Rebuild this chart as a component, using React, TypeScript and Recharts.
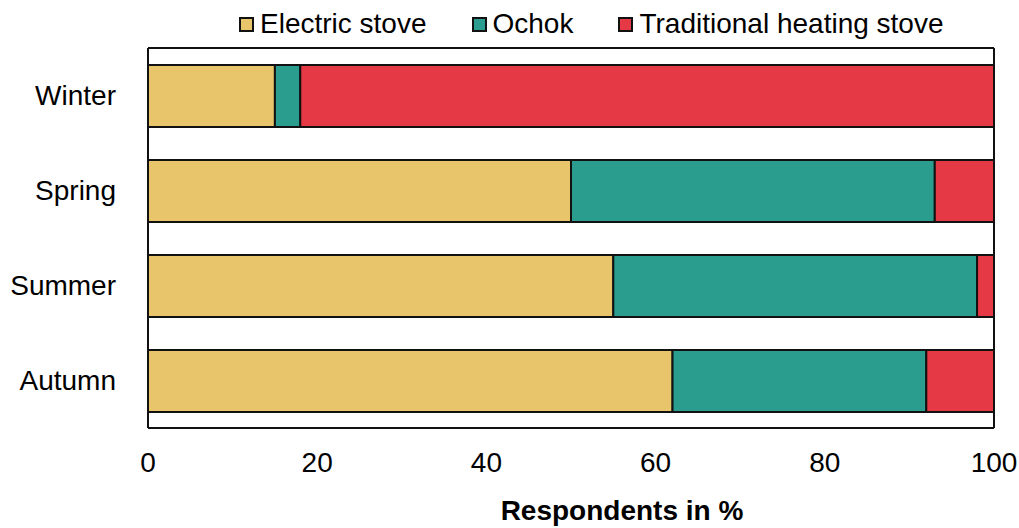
import React from 'react';
import { BarChart, Bar, XAxis, YAxis, Label } from 'recharts';

const seasons = ['Winter', 'Spring', 'Summer', 'Autumn'];
const electricStove = [15, 50, 55, 62];
const ochok = [3, 43, 43, 30];
const traditionalStove = [82, 7, 2, 8];
const seriesNames = ['Electric stove', 'Ochok', 'Traditional heating stove'];
const seriesColors = ['#E8C46B', '#2A9D8F', '#E63946'];
const xTicks = [0, 20, 40, 60, 80, 100];

const data = seasons.map((s, i) => ({
  season: s,
  electric: electricStove[i],
  ochok: ochok[i],
  traditional: traditionalStove[i],
}));
const keys = ['electric', 'ochok', 'traditional'];

const FONT = '"Liberation Sans", Arial, sans-serif';
const FS = 28;

export default function App() {
  return (
    <div style={{ position: 'absolute', left: 0, top: 0, width: 1019, height: 528, background: '#fff', fontFamily: FONT }}>
      <div style={{ position: 'absolute', top: 6, left: 239, display: 'flex', alignItems: 'center', height: 36, whiteSpace: 'nowrap', width: 770 }}>
        {seriesNames.map((n, i) => (
          <div key={n} style={{ display: 'flex', alignItems: 'center', marginRight: i < 2 ? 45 : 0 }}>
            <div style={{ width: 11, height: 11, background: seriesColors[i], border: '2px solid #111', marginRight: 6 }} />
            <span style={{ fontSize: FS, color: '#000', lineHeight: '36px' }}>{n}</span>
          </div>
        ))}
      </div>
      <BarChart
        width={1019}
        height={528}
        data={data}
        layout="vertical"
        margin={{ top: 47, right: 24, bottom: 0, left: 0 }}
        style={{ position: 'absolute', left: 0, top: 0 }}
      >
        <XAxis
          type="number"
          domain={[0, 100]}
          ticks={xTicks}
          tickLine={false}
          tickSize={0}
          tickMargin={24}
          height={100}
          axisLine={{ stroke: '#111', strokeWidth: 2 }}
          tick={{ fill: '#000', fontSize: FS, fontFamily: FONT }}
          interval={0}
        >
          <Label
            value="Respondents in %"
            position="insideBottom"
            offset={8}
            dx={51}
            style={{ fill: '#000', fontSize: FS, fontWeight: 'bold', fontFamily: FONT }}
          />
        </XAxis>
        <XAxis xAxisId="top" type="number" orientation="top" domain={[0, 100]} ticks={[0, 100]} tick={false} tickLine={false} height={1} axisLine={{ stroke: '#111', strokeWidth: 2 }} />
        <YAxis
          type="category"
          dataKey="season"
          width={148}
          tickLine={false}
          tickSize={0}
          tickMargin={32}
          axisLine={{ stroke: '#111', strokeWidth: 2 }}
          tick={{ fill: '#000', fontSize: FS, fontFamily: FONT }}
        />
        <YAxis yAxisId="right" type="category" dataKey="season" orientation="right" width={1} tick={false} tickLine={false} axisLine={{ stroke: '#111', strokeWidth: 2 }} />
        {keys.map((k, i) => (
          <Bar
            key={k}
            dataKey={k}
            name={seriesNames[i]}
            stackId="a"
            fill={seriesColors[i]}
            stroke="#111"
            strokeWidth={2}
            barSize={62}
            isAnimationActive={false}
          />
        ))}
      </BarChart>
    </div>
  );
}
